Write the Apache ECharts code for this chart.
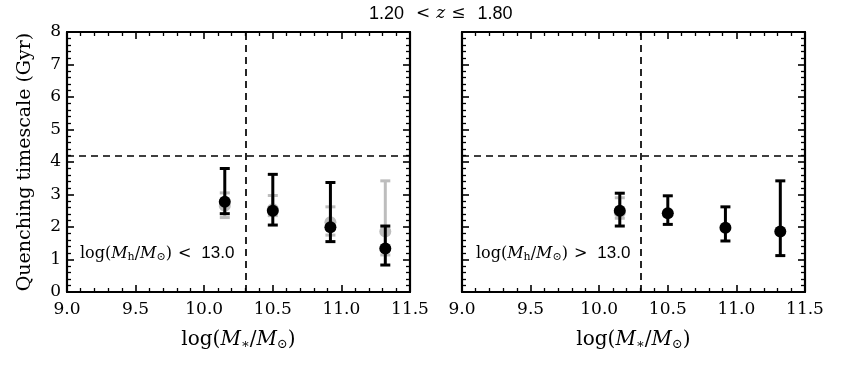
<!DOCTYPE html>
<html>
<head>
<meta charset="utf-8">
<script src="https://cdn.jsdelivr.net/npm/echarts@6/dist/echarts.min.js"></script>
<style>
  html, body { margin: 0; padding: 0; background: #fff; }
  #chart { width: 845px; height: 370px; }
</style>
</head>
<body>
<div id="chart"></div>
<script>
  // stellar mass bins (log M*/Msun)
  const massBins = [10.15, 10.5, 10.92, 11.32]
  // low halo mass panel: quenching timescale (Gyr) with error range
  const lowTau = [2.78, 2.5, 1.99, 1.34]
  const lowTauLo = [2.41, 2.06, 1.55, 0.83]
  const lowTauHi = [3.8, 3.62, 3.37, 2.03]
  // grey (alternative) estimate behind
  const lowGreyTau = [2.65, 2.55, 2.15, 1.86]
  const lowGreyLo = [2.29, 2.35, 1.75, 1.14]
  const lowGreyHi = [3.05, 2.97, 2.62, 3.42]
  // high halo mass panel
  const highTau = [2.5, 2.42, 1.98, 1.86]
  const highTauLo = [2.03, 2.08, 1.57, 1.12]
  const highTauHi = [3.04, 2.96, 2.62, 3.42]
  const highGreyTau = [2.45]
  const highGreyLo = [2.27]
  const highGreyHi = [2.9]
  // reference lines
  const massSplit = 10.3
  const tauRef = 4.2
  const xTicks = { min: 9.0, max: 11.5, interval: 0.5 }
  const yTicks = { min: 0, max: 8, interval: 1 }

  const serif = "'DejaVu Serif', 'Liberation Serif', serif"
  const sans = "'Liberation Sans', 'DejaVu Sans', sans-serif"

  function rows(xs, ys, lo, hi) {
    return ys.map((y, i) => [xs[i], y, lo[i], hi[i]])
  }

  function errorSeries(idx, data, color, z) {
    return {
      type: "custom",
      xAxisIndex: idx * 2,
      yAxisIndex: idx * 2,
      z: z,
      data: data,
      encode: { x: 0, y: [1, 2, 3] },
      renderItem: function (params, api) {
        const x = api.value(0)
        const top = api.coord([x, api.value(3)])
        const bot = api.coord([x, api.value(2)])
        const w = 5
        const st = { stroke: color, lineWidth: 3 }
        return {
          type: "group",
          children: [
            { type: "line", shape: { x1: top[0], y1: top[1], x2: bot[0], y2: bot[1] }, style: st },
            { type: "line", shape: { x1: top[0] - w, y1: top[1], x2: top[0] + w, y2: top[1] }, style: st },
            { type: "line", shape: { x1: bot[0] - w, y1: bot[1], x2: bot[0] + w, y2: bot[1] }, style: st },
          ],
        }
      },
    }
  }

  function pointSeries(idx, data, color, z) {
    return {
      type: "scatter",
      xAxisIndex: idx * 2,
      yAxisIndex: idx * 2,
      z: z,
      symbol: "circle",
      symbolSize: 12,
      itemStyle: { color: color, opacity: 1 },
      data: data.map((r) => [r[0], r[1]]),
    }
  }

  function refLines(idx) {
    return {
      type: "line",
      xAxisIndex: idx * 2,
      yAxisIndex: idx * 2,
      data: [],
      z: 1,
      markLine: {
        silent: true,
        symbol: "none",
        label: { show: false },
        lineStyle: { color: "#000", type: [7, 5], width: 1.7 },
        data: [{ xAxis: massSplit }, { yAxis: tauRef }],
      },
    }
  }

  const tickCommon = {
    axisLine: { show: true, onZero: false, lineStyle: { color: "#000", width: 2.2 } },
    axisTick: { show: true, inside: true, length: 7, lineStyle: { color: "#000", width: 1.6 } },
    minorTick: { show: true, splitNumber: 5, length: 4, lineStyle: { color: "#000", width: 1.3 } },
    splitLine: { show: false },
  }

  const xName = {
    name: "{t|log(}{i|M}{s|∗}{t|/}{i|M}{s|⊙}{t|)}",
    nameLocation: "middle",
    nameGap: 36,
    nameTextStyle: {
      rich: {
        t: { fontFamily: serif, fontSize: 20, color: "#000" },
        i: { fontFamily: serif, fontSize: 20, fontStyle: "italic", color: "#000" },
        s: { fontFamily: serif, fontSize: 13, color: "#000", padding: [10, 0, 0, 0] },
      },
    },
  }

  function xAxes(gi, withName) {
    const bottom = Object.assign({}, tickCommon, xTicks, {
      type: "value",
      gridIndex: gi,
      position: "bottom",
      axisLabel: {
        show: true,
        margin: 9,
        fontFamily: serif,
        fontSize: 17,
        color: "#000",
        formatter: (v) => v.toFixed(1),
      },
    }, withName ? xName : {})
    const top = Object.assign({}, tickCommon, xTicks, {
      type: "value",
      gridIndex: gi,
      position: "top",
      axisLabel: { show: false },
    })
    return [bottom, top]
  }

  function yAxes(gi, withLabels) {
    const left = Object.assign({}, tickCommon, yTicks, {
      type: "value",
      gridIndex: gi,
      position: "left",
      axisLabel: {
        show: withLabels,
        margin: 6,
        fontFamily: serif,
        fontSize: 17,
        color: "#000",
      },
    })
    if (withLabels) {
      Object.assign(left, {
        name: "Quenching timescale (Gyr)",
        nameLocation: "middle",
        nameGap: 32,
        nameTextStyle: { fontFamily: serif, fontSize: 19, color: "#000" },
      })
    }
    const right = Object.assign({}, tickCommon, yTicks, {
      type: "value",
      gridIndex: gi,
      position: "right",
      axisLabel: { show: false },
    })
    return [left, right]
  }

  const annRich = {
    t: { fontFamily: serif, fontSize: 16, color: "#000" },
    c: { fontFamily: serif, fontSize: 16, color: "#000", padding: [0, 10, 0, 6] },
    i: { fontFamily: serif, fontSize: 16, fontStyle: "italic", color: "#000" },
    s: { fontFamily: serif, fontSize: 11, color: "#000", padding: [8, 0, 0, 0] },
    n: { fontFamily: sans, fontSize: 17, color: "#000" },
  }

  const option = {
    backgroundColor: "#fff",
    animation: false,
    grid: [
      { left: 67, top: 32, width: 343, height: 260 },
      { left: 462, top: 32, width: 343, height: 260 },
    ],
    xAxis: [...xAxes(0, true), ...xAxes(1, true)],
    yAxis: [...yAxes(0, true), ...yAxes(1, false)],
    graphic: [
      {
        type: "text",
        left: 369,
        top: 5,
        style: {
          text: "{n|1.20}{c|<}{i|z}{e|≤}{n|1.80}",
          rich: {
            n: { fontFamily: sans, fontSize: 18, color: "#000" },
            c: { fontFamily: serif, fontSize: 17, color: "#000", padding: [0, 6, 0, 12] },
            e: { fontFamily: serif, fontSize: 17, color: "#000", padding: [0, 12, 0, 6] },
            i: { fontFamily: serif, fontSize: 17, fontStyle: "italic", color: "#000" },
          },
        },
      },
      {
        type: "text",
        left: 80,
        top: 245,
        style: {
          text: "{t|log(}{i|M}{s|h}{t|/}{i|M}{s|⊙}{t|)}{c|<}{n|13.0}",
          rich: annRich,
        },
      },
      {
        type: "text",
        left: 476,
        top: 245,
        style: {
          text: "{t|log(}{i|M}{s|h}{t|/}{i|M}{s|⊙}{t|)}{c|>}{n|13.0}",
          rich: annRich,
        },
      },
    ],
    series: [
      refLines(0),
      refLines(1),
      errorSeries(0, rows(massBins, lowGreyTau, lowGreyLo, lowGreyHi), "#bdbdbd", 3),
      pointSeries(0, rows(massBins, lowGreyTau, lowGreyLo, lowGreyHi), "#bdbdbd", 3),
      errorSeries(0, rows(massBins, lowTau, lowTauLo, lowTauHi), "#000", 5),
      pointSeries(0, rows(massBins, lowTau, lowTauLo, lowTauHi), "#000", 6),
      errorSeries(1, rows(massBins, highGreyTau, highGreyLo, highGreyHi), "#bdbdbd", 3),
      pointSeries(1, rows(massBins, highGreyTau, highGreyLo, highGreyHi), "#bdbdbd", 3),
      errorSeries(1, rows(massBins, highTau, highTauLo, highTauHi), "#000", 5),
      pointSeries(1, rows(massBins, highTau, highTauLo, highTauHi), "#000", 6),
    ],
  }

  const myChart = echarts.init(document.getElementById("chart"))
  myChart.setOption(option)
</script>
</body>
</html>
